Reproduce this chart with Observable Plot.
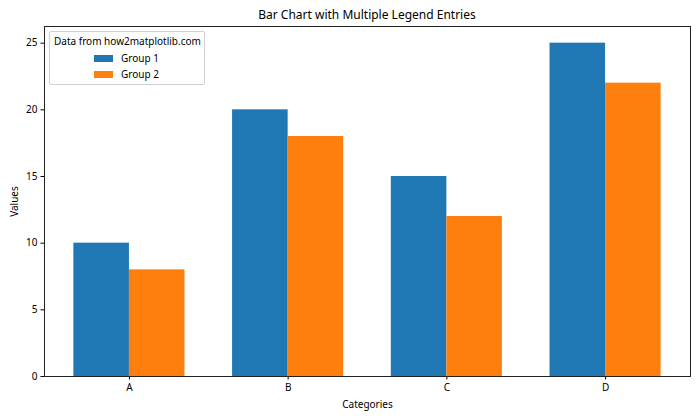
<!DOCTYPE html>
<html><head><meta charset="utf-8">
<script src="https://cdn.jsdelivr.net/npm/d3@7"></script>
<script src="https://cdn.jsdelivr.net/npm/@observablehq/plot@0.6"></script>
<style>
body{margin:0;background:#fff;font-family:"Noto Sans",sans-serif;}
#wrap{position:relative;width:700px;height:420px;overflow:hidden;}
#title{position:absolute;left:44px;width:646px;top:7px;text-align:center;font-size:12px;line-height:16px;color:#000;}
#chart{position:absolute;left:0;top:24px;}
#legend{position:absolute;left:49px;top:31px;width:154px;height:52px;border:1px solid #d0d0d0;border-radius:2px;background:rgba(255,255,255,0.8);font-size:10px;color:#000;}
#legend .lt{position:absolute;left:4px;top:2px;line-height:14px;white-space:nowrap;}
#legend .sw{position:absolute;left:44px;width:19px;height:7px;}
#legend .lb{position:absolute;left:71px;line-height:14px;white-space:nowrap;}
</style></head><body>
<div id="wrap">
  <div id="title"></div>
  <div id="chart"></div>
  <div id="legend"></div>
</div>
<script>
const chartTitle = "Bar Chart with Multiple Legend Entries";
const legendTitle = "Data from how2matplotlib.com";
const categories = ["A", "B", "C", "D"];
const group1 = [10, 20, 15, 25];
const group2 = [8, 18, 12, 22];
const seriesNames = ["Group 1", "Group 2"];
const colors = ["#1f77b4", "#ff7f0e"];
const yTicks = [0, 5, 10, 15, 20, 25];
const xLabel = "Categories";
const yLabel = "Values";

const barWidth = 0.35;
const seriesValues = [group1, group2];
const rows = [];
categories.forEach((c, i) => {
  seriesValues.forEach((vals, s) => {
    rows.push({cat: c, series: seriesNames[s], value: vals[i],
      x1: i + (s - 1) * barWidth, x2: i + s * barWidth});
  });
});
const xMin = -barWidth, xMax = categories.length - 1 + barWidth;
const xPad = (xMax - xMin) * 0.05;
const yMax = d3.max(rows, d => d.value) * 1.05;

document.getElementById("title").textContent = chartTitle;

const chart = Plot.plot({
  width: 700, height: 396,
  marginLeft: 44, marginRight: 10, marginTop: 2, marginBottom: 44,
  style: {fontFamily: "Noto Sans", fontSize: "10px", color: "black", background: "white", overflow: "visible"},
  x: {type: "linear", domain: [xMin - xPad, xMax + xPad], ticks: categories.map((c, i) => i),
      tickFormat: i => categories[i], tickSize: 3.5, tickPadding: 3.5,
      label: xLabel, labelAnchor: "center", labelOffset: 31, labelArrow: "none"},
  y: {domain: [0, yMax], ticks: yTicks, tickSize: 3.5, tickPadding: 3.5,
      label: yLabel, labelAnchor: "center", labelOffset: 34, labelArrow: "none"},
  color: {domain: seriesNames, range: colors},
  marks: [
    Plot.rect(rows, {x1: "x1", x2: "x2", y1: 0, y2: "value", fill: "series"}),
    Plot.frame({stroke: "#222", strokeWidth: 1})
  ]
});
document.getElementById("chart").appendChild(chart);

const lg = document.getElementById("legend");
const t = document.createElement("div");
t.className = "lt"; t.textContent = legendTitle; lg.appendChild(t);
seriesNames.forEach((name, k) => {
  const sw = document.createElement("div");
  sw.className = "sw"; sw.style.background = colors[k]; sw.style.top = (23 + k * 16) + "px";
  lg.appendChild(sw);
  const lb = document.createElement("div");
  lb.className = "lb"; lb.textContent = name; lb.style.top = (19 + k * 16) + "px";
  lg.appendChild(lb);
});
</script>
</body></html>
